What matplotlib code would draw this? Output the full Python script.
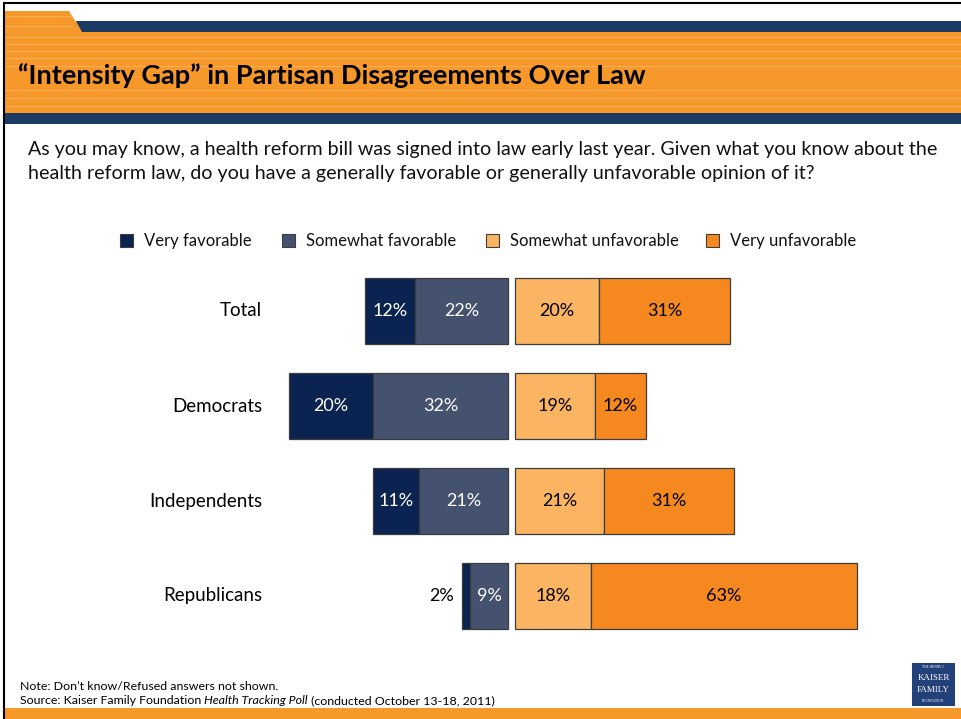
import matplotlib.pyplot as plt
from matplotlib.patches import Rectangle, Polygon

plt.rcParams['font.family'] = ['Lato', 'DejaVu Sans']

# data
groups = ['Total', 'Democrats', 'Independents', 'Republicans']
very_fav = [12, 20, 11, 2]
some_fav = [22, 32, 21, 9]
some_unfav = [20, 19, 21, 18]
very_unfav = [31, 12, 31, 63]
series_names = ['Very favorable', 'Somewhat favorable', 'Somewhat unfavorable', 'Very unfavorable']

title = '\u201cIntensity Gap\u201d in Partisan Disagreements Over Law'
question = ('As you may know, a health reform bill was signed into law early last year. Given what you know about the\n'
            'health reform law, do you have a generally favorable or generally unfavorable opinion of it?')

c_vf = '#0A2350'
c_sf = '#45526F'
c_su = '#FBB462'
c_vu = '#F5891F'
edge = '#3C3C3C'
orange = '#F7982B'
navy = '#1B3B65'

W, H = 961, 719
fig = plt.figure(figsize=(W / 100, H / 100), dpi=100)

# decoration layer in pixel coordinates
deco = fig.add_axes([0, 0, 1, 1])
deco.set_xlim(0, W)
deco.set_ylim(H, 0)
deco.axis('off')

# header band
deco.add_patch(Rectangle((4, 32), W, 81, color=orange, lw=0))
deco.add_patch(Polygon([(4, 11), (69, 11), (82, 32), (4, 32)], closed=True, color=orange, lw=0))
deco.add_patch(Rectangle((76, 21), W, 11, color=navy, lw=0))
deco.add_patch(Polygon([(69, 11), (76, 21), (82, 32), (76, 32), (76, 21)], closed=True, color=orange, lw=0))
deco.add_patch(Rectangle((4, 113), W, 11, color=navy, lw=0))
for yy in [16, 26, 37, 44, 51, 58, 66, 90, 98, 106]:
    x0 = 4
    x1 = 72 if yy < 32 else W
    deco.plot([x0, x1], [yy, yy], color='#FAB665', lw=0.8, alpha=0.8)
deco.text(18, 76, title, fontsize=19.5, fontweight='bold', color='black', va='center', ha='left')

# borders
deco.plot([4, W], [3, 3], color='black', lw=1.5)
deco.plot([4, 4], [3, H], color='black', lw=1.5)

# footer band
deco.add_patch(Rectangle((4, 708), W, 11, color=orange, lw=0))

deco.text(28, 161, question, fontsize=14.1, va='center', ha='left', linespacing=1.5, color='#111111')

# legend
leg_x = [120, 282, 486, 706]
leg_cols = [c_vf, c_sf, c_su, c_vu]
for lx, col, name in zip(leg_x, leg_cols, series_names):
    deco.add_patch(Rectangle((lx, 234), 13, 13, facecolor=col, edgecolor=edge, lw=0.8))
    deco.text(lx + 24, 241, name, fontsize=12, va='center', ha='left', color='#111111')

# notes
fn = 8.9
deco.text(20, 686, 'Note: Don\u2019t know/Refused answers not shown.', fontsize=fn, va='center')
deco.text(20, 701, 'Source: Kaiser Family Foundation ', fontsize=fn, va='center')
deco.annotate('Health Tracking Poll', xy=(1, 0.5), xycoords=deco.texts[-1], fontsize=fn,
              style='italic', va='center', ha='left')
deco.annotate(' (conducted October 13-18, 2011)', xy=(1, 0.5), xycoords=deco.texts[-1], fontsize=fn,
              va='center', ha='left')

# logo
deco.add_patch(Rectangle((912, 663), 43, 43, color='#22407A', lw=0))
deco.text(933.5, 667, 'THE HENRY J.', fontsize=2.5, color='white', ha='center', va='center', family='Liberation Serif')
deco.text(933.5, 678, 'KAISER', fontsize=6.5, color='white', ha='center', va='center', family='Liberation Serif')
deco.text(933.5, 690, 'FAMILY', fontsize=6.5, color='white', ha='center', va='center', family='Liberation Serif')
deco.text(933.5, 701, 'FOUNDATION', fontsize=2.5, color='white', ha='center', va='center', family='Liberation Serif')

# bar chart: x in percent, y in group index
ppp = 4.22          # pixels per percent
cx = 511.5          # pixel centre of the chart
gap = 0.83          # half gap in percent
row0, rowstep = 311, 95
ax = fig.add_axes([0, 0, 1, 1])
ax.set_xlim(-cx / ppp, (W - cx) / ppp)
ax.set_ylim((H - row0) / rowstep, (0 - row0) / rowstep)
ax.axis('off')
ax.patch.set_alpha(0)

bh = 0.685
kw = dict(height=bh, edgecolor=edge, linewidth=0.9)

for i, g in enumerate(groups):
    sf_left = -gap - some_fav[i]
    vf_left = sf_left - very_fav[i]
    ax.barh(i, some_fav[i], left=sf_left, color=c_sf, **kw)
    ax.barh(i, very_fav[i], left=vf_left, color=c_vf, **kw)
    ax.barh(i, some_unfav[i], left=gap, color=c_su, **kw)
    ax.barh(i, very_unfav[i], left=gap + some_unfav[i], color=c_vu, **kw)

    segs = [(vf_left, very_fav[i], 'white'), (sf_left, some_fav[i], 'white'),
            (gap, some_unfav[i], 'black'), (gap + some_unfav[i], very_unfav[i], 'black')]
    for left, v, tc in segs:
        if v < 5:
            ax.text(left - 1.7, i, f'{v}%', ha='right', va='center', fontsize=13, color='black')
        else:
            ax.text(left + v / 2, i, f'{v}%', ha='center', va='center', fontsize=13, color=tc)

    ax.text((262 - cx) / ppp, i, g, ha='right', va='center', fontsize=13.5, color='black')

fig.savefig('out.png', dpi=100)
